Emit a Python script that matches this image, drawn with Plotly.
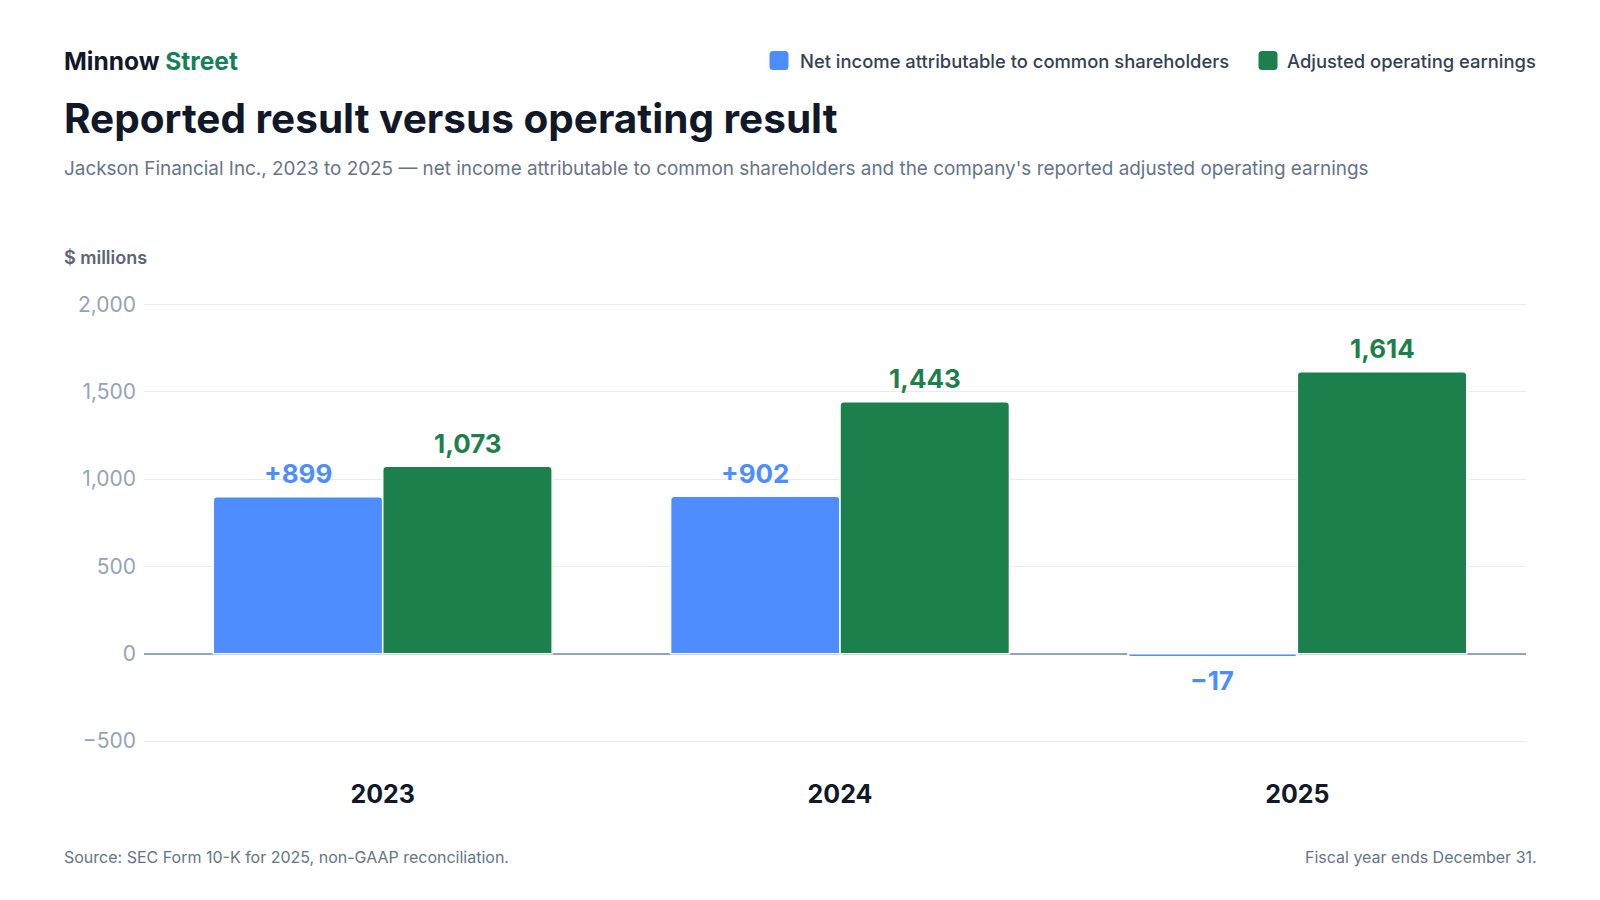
import plotly.graph_objects as go

# Data
years = ["2023", "2024", "2025"]
net_income = [899, 902, -17]
adj_operating = [1073, 1443, 1614]
series_names = ["Net income attributable to common shareholders", "Adjusted operating earnings"]

blue = "#4d8dff"
green = "#1c804c"
font = "Inter, Noto Sans, sans-serif"

# the page body has an 8px margin: draw the figure 16px smaller so it fits the window,
# and place things by their screen position minus 8
W, H = 1584, 884
L, R, T, B = 136, 66, 278.5, 129.5
PW, PH = W - L - R, H - T - B
BAR_SHIFT = 85  # px from category centre to the centre of each grouped bar


def px_x(x):
    return (x - 8 - L) / PW


def px_y(y):
    return (H - B - (y - 8)) / PH


fig = go.Figure()
fig.add_trace(go.Bar(
    x=years, y=net_income, name=series_names[0],
    marker=dict(color=blue, line=dict(color="white", width=1.5)),
    hoverinfo="skip",
))
fig.add_trace(go.Bar(
    x=years, y=adj_operating, name=series_names[1],
    marker=dict(color=green, line=dict(color="white", width=1.5)),
    hoverinfo="skip",
))

# value labels above / below each bar (x given as category index)
for vals, color, shift, signed in [(net_income, blue, -BAR_SHIFT, True), (adj_operating, green, BAR_SHIFT, False)]:
    for i, v in enumerate(vals):
        if signed:
            label = ("+" if v > 0 else "\u2212") + format(abs(v), ",")
        else:
            label = format(v, ",")
        fig.add_annotation(
            x=i, y=v, xref="x", yref="y", text=label, showarrow=False,
            xshift=shift, yshift=23 if v >= 0 else -24,
            xanchor="center", yanchor="middle",
            font=dict(family=font, size=26, color=color, weight="bold"),
        )

fig.update_layout(
    width=W, height=H,
    paper_bgcolor="white", plot_bgcolor="white",
    font=dict(family=font, color="#334155"),
    barmode="group", bargap=0.259, bargroupgap=0.0, barcornerradius=4,
    margin=dict(l=L, r=R, t=T, b=B, autoexpand=False),
    showlegend=False,
    xaxis=dict(
        type="category",
        range=[-0.522, 2.5], showgrid=False, zeroline=False, showline=False,
        ticks="", ticklabelstandoff=15,
        tickfont=dict(family=font, size=25, color="#111827", weight="bold"),
    ),
    yaxis=dict(
        range=[-620, 2100], tickvals=[-500, 0, 500, 1000, 1500, 2000],
        tickformat=",", showgrid=True, gridcolor="#e8ebef", gridwidth=1,
        zeroline=True, zerolinecolor="#94a3b8", zerolinewidth=1.8,
        showline=False, ticks="", ticklabelstandoff=7,
        tickfont=dict(family=font, size=21, color="#94a3b8"),
    ),
)

# header, axis unit, legend and footer texts
notes = [
    ("<b>Minnow <span style='color:#14805a'>Street</span></b>", 62, 60, 24.5, "#111827", "left", None),
    ("<b>Reported result versus operating result</b>", 62, 118, 40.5, "#111827", "left", None),
    ("Jackson Financial Inc., 2023 to 2025 \u2014 net income attributable to common shareholders and the company's reported adjusted operating earnings",
     62, 168, 18.9, "#64748b", "left", None),
    ("$ millions", 62, 257, 18, "#5b6477", "left", 600),
    ("Source: SEC Form 10-K for 2025, non-GAAP reconciliation.", 62, 858, 16, "#64748b", "left", None),
    ("Fiscal year ends December 31.", 1539, 858, 16, "#64748b", "right", None),
    (series_names[0], 798, 60, 18.4, "#334155", "left", 500),
    (series_names[1], 1285, 60, 18.4, "#334155", "left", 500),
]
for txt, x, y, size, color, anchor, weight in notes:
    f = dict(family=font, size=size, color=color)
    if weight:
        f["weight"] = weight
    fig.add_annotation(
        text=txt, xref="paper", yref="paper", x=px_x(x), y=px_y(y),
        xanchor=anchor, yanchor="middle", showarrow=False, font=f,
    )

# rounded legend swatches
r = 3.5
s = 19
swatch = (f"M {-s/2+r},{-s/2} L {s/2-r},{-s/2} Q {s/2},{-s/2} {s/2},{-s/2+r} "
          f"L {s/2},{s/2-r} Q {s/2},{s/2} {s/2-r},{s/2} L {-s/2+r},{s/2} "
          f"Q {-s/2},{s/2} {-s/2},{s/2-r} L {-s/2},{-s/2+r} Q {-s/2},{-s/2} {-s/2+r},{-s/2} Z")
for cx, color in [(779, blue), (1268, green)]:
    fig.add_shape(
        type="path", path=swatch, xref="paper", yref="paper",
        xsizemode="pixel", ysizemode="pixel", xanchor=px_x(cx), yanchor=px_y(59.5),
        fillcolor=color, line=dict(width=0),
    )

fig.write_html("out.html")
